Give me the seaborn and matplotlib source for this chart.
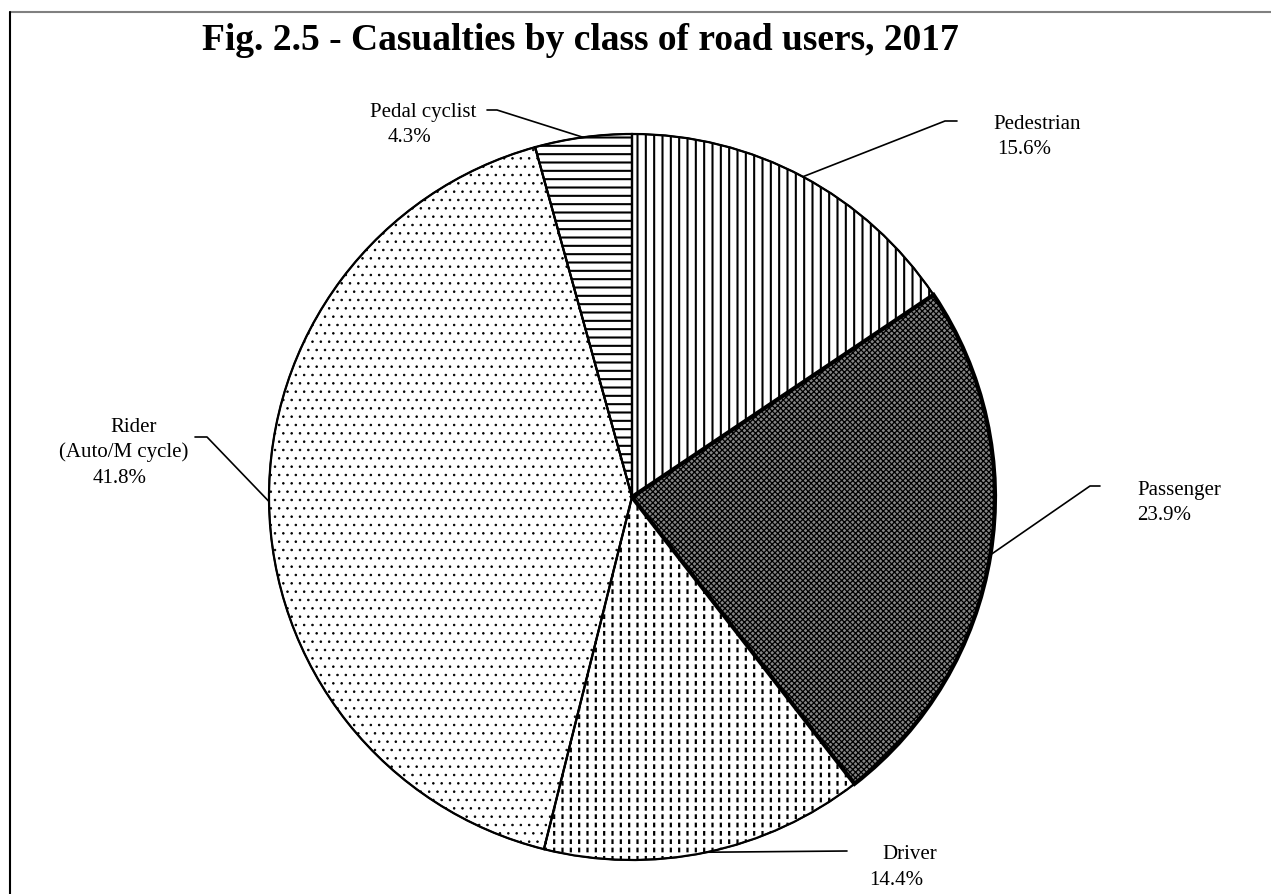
import matplotlib
matplotlib.use("Agg")
import matplotlib.pyplot as plt
from matplotlib.patches import Wedge
from matplotlib.lines import Line2D
import seaborn as sns
import numpy as np

sns.set_theme(style="white")
plt.rcParams["font.family"] = ["Liberation Serif", "DejaVu Serif"]
plt.rcParams["hatch.linewidth"] = 1.2

# data, clockwise from 12 o'clock
categories = ["Pedestrian", "Passenger", "Driver", "Rider\n(Auto/M cycle)", "Pedal cyclist"]
shares = [15.6, 23.9, 14.4, 41.8, 4.3]
hatches = ["||", "xxxxxx", "||", "..", "--"]
faces = ["white", "#858585", "white", "white", "white"]
hatch_lw = [1.5, 0.9, 1.6, 0.6, 1.5]

W, H = 1271, 894
cx, cy, R = 632, 497, 363  # pie centre / radius in pixels

fig = plt.figure(figsize=(W / 100, H / 100), dpi=100)
ax = fig.add_axes([0, 0, 1, 1])


def px(x, y):
    return (x - cx) / R, (cy - y) / R


def set_hlw(p, v):
    if hasattr(p, "set_hatch_linewidth"):
        p.set_hatch_linewidth(v)


wedges, _ = ax.pie(shares, startangle=90, counterclock=False, radius=1,
                   colors=faces, wedgeprops=dict(edgecolor="black", linewidth=1.2))
for w, h, hl in zip(wedges, hatches, hatch_lw):
    w.set_hatch(h)
    w.set_zorder(1)
    set_hlw(w, hl)

# break the driver's vertical lines into dashes
drv = wedges[2]
cut = Wedge((0, 0), 1, drv.theta1, drv.theta2, facecolor="none",
            edgecolor="white", linewidth=0, hatch="--", zorder=2)
set_hlw(cut, 2.6)
ax.add_patch(cut)

# outlines on top
lw = [1.6, 3.0, 1.6, 1.6, 1.6]
for w, l in zip(wedges, lw):
    ax.add_patch(Wedge((0, 0), 1, w.theta1, w.theta2, facecolor="none",
                       edgecolor="black", linewidth=l, zorder=3))

# label layout (pixels): leader elbow, stub end, and each text line (x, y centre, ha)
layout = {
    "Pedestrian": dict(elbow=(945, 121), stub=(957, 121),
                       lines=[(993, 122, "left"), (997, 147, "left")]),
    "Passenger": dict(elbow=(1090, 486), stub=(1100, 486),
                      lines=[(1137, 488, "left"), (1137, 513, "left")]),
    "Driver": dict(elbow=(847, 851), stub=(847, 851),
                   lines=[(882, 852, "left"), (869, 878, "left")]),
    "Rider\n(Auto/M cycle)": dict(elbow=(207, 437), stub=(195, 437),
                                  lines=[(134, 425, "center"), (124, 450, "center"),
                                         (120, 476, "center")]),
    "Pedal cyclist": dict(elbow=(497, 110), stub=(487, 110),
                          lines=[(423, 110, "center"), (409, 135, "center")]),
}

for w, cat, val in zip(wedges, categories, shares):
    mid = np.deg2rad((w.theta1 + w.theta2) / 2)
    ex, ey = np.cos(mid), np.sin(mid)
    L = layout[cat]
    bx, by = px(*L["elbow"])
    sx, sy = px(*L["stub"])
    ax.plot([ex, bx, sx], [ey, by, sy], color="black", lw=1.2, zorder=4)
    texts = cat.split("\n") + [f"{val}%"]
    for t, (x, y, ha) in zip(texts, L["lines"]):
        ax.text(*px(x, y + 7), t, ha=ha, va="baseline", fontsize=15, color="black")

ax.set_xlim(-cx / R, (W - cx) / R)
ax.set_ylim((cy - H) / R, cy / R)
ax.set_aspect("auto")
ax.axis("off")

fig.text(580 / W, 1 - 50 / H, "Fig. 2.5 - Casualties by class of road users, 2017",
         ha="center", va="baseline", fontsize=27, fontweight="bold", color="black")

fig.add_artist(Line2D([10 / W, 1], [1 - 12 / H] * 2, color="#808080", lw=1.5))
fig.add_artist(Line2D([10 / W] * 2, [0, 1 - 12 / H], color="black", lw=1.5))

fig.savefig("out.png", dpi=100, facecolor="white")
